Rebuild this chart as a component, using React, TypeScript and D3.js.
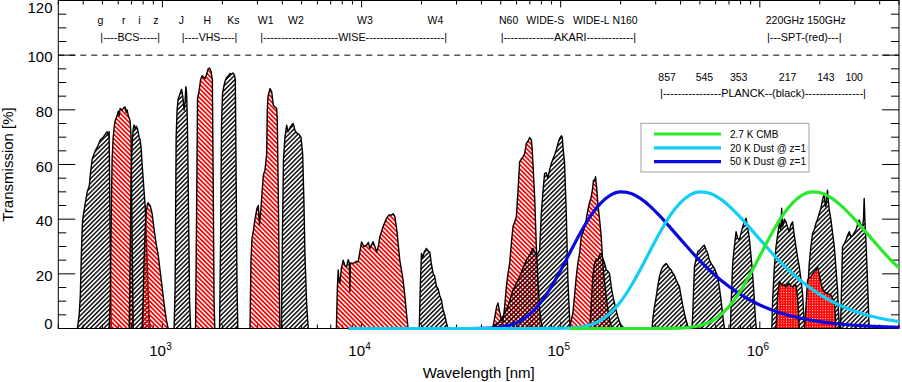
import React, { useRef, useEffect } from "react";
import * as d3 from "d3";

type Pt = [number, number];

// filter transmission curves: [wavelength (micron), transmission (%)]
const bcsG: Pt[] = [[0.374,0],[0.382,5],[0.387,12],[0.391,25],[0.396,38],[0.400,41],[0.410,46],[0.419,50],[0.429,52],[0.434,56],[0.444,62],[0.460,65],[0.476,67],[0.487,69],[0.504,70],[0.516,71],[0.528,72],[0.534,70.5],[0.540,72],[0.547,30],[0.553,0]];
const bcsR: Pt[] = [[0.540,0],[0.547,10],[0.553,40],[0.559,62],[0.566,70],[0.573,74],[0.579,76],[0.593,78],[0.600,79.5],[0.607,78],[0.613,80.5],[0.628,80],[0.643,81],[0.650,81],[0.658,79],[0.665,80],[0.673,78],[0.681,77],[0.688,76],[0.696,70],[0.705,30],[0.713,0]];
const bcsI: Pt[] = [[0.681,0],[0.688,25],[0.696,55],[0.705,68],[0.713,73],[0.721,74.5],[0.729,73],[0.738,74],[0.746,73.5],[0.755,72],[0.764,70],[0.773,69],[0.782,66],[0.791,60],[0.800,55],[0.809,50],[0.819,45],[0.828,36],[0.838,25],[0.847,14],[0.857,5],[0.868,0]];
const bcsZ: Pt[] = [[0.791,0],[0.800,10],[0.809,25],[0.819,36],[0.828,42],[0.838,45],[0.847,46],[0.857,45.5],[0.868,45],[0.888,42],[0.909,36],[0.930,31],[0.952,27],[0.974,21],[0.997,15],[1.020,9],[1.044,3.5],[1.068,0]];
const vhsJ: Pt[] = [[1.145,0],[1.158,15],[1.172,70],[1.185,80],[1.199,84],[1.227,86],[1.249,87.5],[1.270,84],[1.285,80],[1.300,83],[1.311,88.5],[1.323,86],[1.335,75],[1.354,40],[1.369,10],[1.385,0]];
const vhsH: Pt[] = [[1.467,0],[1.484,40],[1.501,84],[1.528,87],[1.555,91],[1.582,92.5],[1.610,92],[1.638,91.5],[1.667,93],[1.696,95],[1.726,95.3],[1.755,94],[1.781,91],[1.796,60],[1.817,10],[1.832,0]];
const vhsKs: Pt[] = [[1.936,0],[1.958,30],[1.981,75],[2.004,86],[2.039,89],[2.075,91],[2.111,92],[2.148,92.5],[2.185,93.3],[2.223,93],[2.262,93.5],[2.302,92.7],[2.323,91],[2.342,60],[2.369,15],[2.391,0]];
const wiseW1: Pt[] = [[2.753,0],[2.785,25],[2.817,33],[2.867,36],[2.917,40],[2.985,44],[3.030,45],[3.072,38],[3.126,44],[3.210,56],[3.274,58],[3.339,64],[3.362,80],[3.389,84.8],[3.469,87.8],[3.538,86.6],[3.604,81.7],[3.675,81],[3.748,80.5],[3.775,76],[3.818,50],[3.863,15],[3.893,0]];
const wiseW2: Pt[] = [[3.961,0],[4.007,35],[4.054,62],[4.125,70],[4.206,74.4],[4.270,72],[4.370,73.5],[4.472,74.6],[4.540,75],[4.630,72.5],[4.738,71.5],[4.849,71],[4.962,70],[5.061,64],[5.137,46],[5.197,27],[5.300,9],[5.398,0]];
const wiseW3: Pt[] = [[7.475,0],[7.563,15],[7.633,21.4],[7.696,18],[7.784,16.6],[7.920,22],[8.087,25],[8.247,23],[8.411,22.6],[8.567,25.2],[8.687,24],[8.737,13.5],[8.788,24],[9.077,23.8],[9.365,24.5],[9.616,24.4],[9.806,28],[10.00,31.7],[10.27,30],[10.60,30.5],[10.82,31.5],[11.01,29.3],[11.43,31.7],[11.66,30],[11.89,28],[12.14,30],[12.35,33.5],[12.79,37],[13.35,40.3],[13.71,41.5],[14.14,41.5],[14.44,42],[14.69,40.9],[15.04,36],[15.56,25],[16.17,17.7],[16.49,12],[16.82,5.5],[17.13,0]];
const wiseW4: Pt[] = [[19.49,0],[19.72,15],[19.99,27.5],[20.30,26],[20.65,28],[21.18,29.3],[21.51,28.5],[22.01,28],[22.39,24],[22.86,20.2],[23.32,19],[23.78,15.3],[24.22,14.6],[24.70,12],[25.19,10.4],[25.66,7],[26.17,4.9],[26.69,2],[27.19,0]];
const akariN60: Pt[] = [[45.55,0],[46.62,4],[47.71,8],[48.43,9.3],[49.39,6],[50.55,3],[51.31,2.5],[52.33,8],[53.37,15.3],[54.36,20],[55.43,23.8],[56.53,31.1],[57.59,37.2],[58.73,39],[59.89,40.9],[61.01,50],[62.22,61],[63.45,62],[64.64,62.8],[65.92,64],[67.23,67.7],[68.48,68.5],[69.83,69.9],[71.21,69],[71.88,66],[72.55,60.4],[73.99,48.2],[75.45,29.9],[76.86,17.7],[78.38,6.8],[79.93,2],[81.43,0]];
const akariWideS: Pt[] = [[45.55,0],[47.16,1.5],[49.39,2.5],[51.31,4.5],[53.37,6.8],[55.43,10],[57.59,14],[59.89,16.5],[62.22,19],[64.64,22],[67.23,25],[69.83,26.8],[72.55,29.3],[73.99,28],[75.45,26.8],[76.86,27.5],[78.38,28.6],[79.93,42.1],[81.43,50],[83.04,56.7],[84.69,57],[86.27,54.9],[87.98,58],[89.72,60.4],[91.40,62],[93.22,63.5],[95.06,65.3],[96.83,67.5],[98.74,69.5],[100.7,70.5],[101.9,69.9],[102.8,66],[104.6,60.4],[106.7,42],[108.7,17.7],[110.8,4],[111.7,0]];
const akariWideL: Pt[] = [[110.2,0],[112.1,2],[115.1,5.5],[117.4,12],[119.8,19],[122.0,24],[124.4,27.5],[126.9,33.6],[129.2,35],[131.8,37.2],[134.4,40],[136.9,43.3],[139.6,46],[142.4,48.2],[144.5,51],[146.2,54.3],[147.9,54],[149.6,55.5],[151.4,52],[153.6,45.8],[156.7,40],[159.8,33.6],[162.8,23.8],[166.0,17],[169.3,11.6],[172.5,7],[175.9,3.1],[179.4,1],[182.7,0]];
const akariN160: Pt[] = [[138.0,0],[140.4,2],[142.4,9],[145.0,19],[147.9,23.8],[151.4,25.5],[154.0,25],[156.7,26.9],[159.4,27.5],[162.8,25.6],[166.0,24],[169.3,21.4],[172.5,21],[175.9,20.1],[179.4,15.3],[182.7,12],[186.4,9.2],[190.1,6.5],[193.6,4.3],[197.4,2.5],[201.3,1.2],[209.1,0]];
const planck857: Pt[] = [[287.4,0],[290.8,4],[295.8,8],[301.7,11.6],[307.3,15.5],[313.3,19],[318.8,21],[325.5,22.6],[331.9,23.2],[338.5,23.8],[344.8,23],[351.7,22],[358.7,21.5],[365.4,20.2],[372.6,19.5],[380.0,17.7],[387.1,16.5],[394.8,15.3],[402.6,11.6],[410.2,8.5],[418.3,5.5],[426.6,3],[434.5,1],[443.1,0]];
const planck545: Pt[] = [[456.1,0],[460.3,5],[469.5,22.6],[477.6,25],[487.7,28.1],[497.3,28.5],[507.1,29.3],[516.6,30],[526.9,30.5],[536.0,29],[547.3,27.5],[558.2,25],[569.3,23.8],[579.9,23],[591.4,22],[603.1,20.5],[614.4,19],[626.6,15],[639.0,10.4],[651.0,5],[663.9,0]];
const planck353: Pt[] = [[711.5,0],[717.2,8],[730.7,23.8],[745.1,30],[759.9,35.4],[774.1,33],[789.4,32.4],[805.0,35],[820.1,37.2],[836.4,39],[852.9,40.3],[868.8,37],[886.0,33],[899.4,28],[913.8,22.6],[928.0,16],[938.7,10.4],[949.7,4],[960.7,0]];
const planck217: Pt[] = [[1149,0],[1159,10],[1182,22],[1206,29.9],[1228,34],[1253,38.5],[1275,36],[1287,44],[1302,37.2],[1328,40],[1354,39],[1379,37],[1406,35.4],[1434,38],[1461,39],[1490,34],[1519,29.9],[1547,26],[1578,22.6],[1609,18],[1639,12.8],[1662,5],[1682,0]];
const planck143: Pt[] = [[1721,0],[1737,12],[1771,23.8],[1806,30],[1840,34.8],[1876,36],[1914,38.5],[1949,40],[1988,42.1],[2027,44],[2065,47],[2106,49.4],[2131,45],[2148,44.6],[2168,48],[2188,50.6],[2206,47],[2232,43.4],[2276,39.8],[2319,35],[2365,30],[2412,22],[2457,14],[2485,6],[2514,0]];
const planck100: Pt[] = [[2543,0],[2564,10],[2602,30],[2654,31],[2707,32.4],[2757,34],[2812,35.4],[2868,33.5],[2921,34],[2979,35],[3038,36],[3095,38],[3155,39.7],[3217,38],[3278,37],[3316,40],[3343,47.6],[3370,40],[3409,32.4],[3441,25],[3472,17.7],[3509,8],[3542,0]];
const spt220: Pt[] = [[1206,0],[1217,5],[1228,11.6],[1253,17.1],[1275,16.5],[1302,15.8],[1328,16],[1354,15.2],[1379,16],[1406,16.5],[1434,15.5],[1461,15.2],[1490,16],[1519,15.8],[1547,11.6],[1565,5],[1578,0]];
const spt150: Pt[] = [[1672,0],[1691,4],[1705,8],[1737,17.7],[1771,18.5],[1806,19],[1840,20],[1876,20.8],[1914,21.5],[1949,22.6],[1988,20],[2027,16.5],[2065,14.5],[2106,13.5],[2148,13],[2188,12.8],[2232,12.5],[2276,12.2],[2319,11],[2365,9.8],[2392,5],[2412,0]];

// model spectra, scaled to 50% peak: [wavelength (micron), value]
const dust50: Pt[] = [[8.6,0],[20,0],[31.6,0],[39.8,0.06],[50.1,0.54],[63.1,2.9],[70.8,5.6],[79.4,9.5],[89.1,14.9],[100,21.3],[112.2,28.3],[125.9,35.1],[141.3,41.2],[158.5,45.8],[177.8,48.8],[199.5,50.0],[223.9,49.5],[251.2,47.6],[281.8,44.7],[316.2,41.0],[398.1,32.8],[501.2,24.7],[631,17.9],[794.3,12.6],[1000,8.6],[1259,5.8],[1585,3.85],[1995,2.53],[2512,1.64],[3162,1.06],[3981,0.68],[5000,0.44]];
const dust20: Pt[] = [[8.6,0],[50,0],[99.5,0.06],[125.3,0.54],[157.8,2.9],[177,5.6],[198.5,9.5],[222.8,14.9],[250,21.3],[280.5,28.3],[314.8,35.1],[353.3,41.2],[396.3,45.8],[444.5,48.8],[498.8,50.0],[559.8,49.5],[628,47.6],[704.5,44.7],[790.5,41.0],[995.3,32.8],[1253,24.7],[1578,17.9],[1986,12.6],[2500,8.6],[3148,5.8],[3963,3.85],[5000,2.53]];
const cmb: Pt[] = [[110.8,0],[300,0],[400,0.14],[459.6,0.54],[578.9,2.9],[649.5,5.6],[728.4,9.5],[817.4,14.9],[917.4,21.3],[1029,28.3],[1155,35.1],[1296,41.2],[1454,45.8],[1631,48.8],[1830,50.0],[2054,49.5],[2305,47.6],[2585,44.7],[2901,41.0],[3652,32.8],[4598,24.7],[5000,22.2]];

const legendNames = ["2.7 K CMB", "20 K Dust @ z=1", "50 K Dust @ z=1"];

// band names and where they sit (micron)
const bandNames = ["g","r","i","z","J","H","Ks","W1","W2","W3","W4","N60","WIDE-S","WIDE-L","N160","220GHz 150GHz"];
const bandNameAt = [0.488,0.640,0.766,0.926,1.245,1.682,2.27,3.30,4.68,10.4,23.5,54.8,83.7,142.4,210.8,1701];
const planckNames = ["857","545","353","217","143","100"];
const planckNameAt = [342.4,526.9,783.0,1379,2148,2979];
const surveyNames = ["|----BCS-----|","|----VHS----|","|---------------------WISE----------------------|","|--------------AKARI-------------|","|---SPT-(red)---|","|----------------PLANCK--(black)----------------|"];
const surveyFrom = [0.488,1.251,3.101,49.96,1086.7,315.8];
const surveyTo = [0.974,2.377,26.87,239.4,2572,3409];

const yTicks = [0, 20, 40, 60, 80, 100, 120];
const xDecades = [3, 4, 5, 6];

const FONT = "'Liberation Sans', Arial, Helvetica, sans-serif";

const App = () => {
    const ref = useRef<SVGSVGElement>(null);

    useEffect(() => {
        const svg = d3.select(ref.current);
        svg.selectAll("*").remove();

        const left = 58.3, right = 899, top = 0.5, bottom = 328.5;
        const x = d3.scaleLog().domain([300, 5e6]).range([left, right]);
        const y = d3.scaleLinear().domain([0, 120]).range([bottom, top]);
        const um = (v: number) => x(v * 1000);

        const defs = svg.append("defs");
        const hatch = (id: string, color: string, angle: number, w: number) => {
            defs.append("pattern")
                .attr("id", id)
                .attr("patternUnits", "userSpaceOnUse")
                .attr("width", 3.2).attr("height", 3.2)
                .attr("patternTransform", `rotate(${angle})`)
                .append("line")
                .attr("x1", 1.6).attr("y1", -1).attr("x2", 1.6).attr("y2", 4.2)
                .attr("stroke", color).attr("stroke-width", w);
        };
        hatch("hatchK", "#000", 45, 1.4);
        hatch("hatchR", "#ff0000", -45, 1.7);
        const spt = defs.append("pattern")
            .attr("id", "sptFill")
            .attr("patternUnits", "userSpaceOnUse")
            .attr("width", 2.6).attr("height", 2.6);
        spt.append("rect").attr("width", 2.6).attr("height", 2.6).attr("fill", "#ff0000");
        spt.append("circle").attr("cx", 1.3).attr("cy", 1.3).attr("r", 0.55).attr("fill", "#fff");

        const g = svg.append("g").style("font-family", FONT);

        // ticks (drawn first, fills go over them)
        const ax = g.append("g").attr("stroke", "#000").attr("stroke-width", 1);
        for (let v = 0; v <= 120; v += 5) {
            const len = v % 20 === 0 ? 17 : 8;
            ax.append("line").attr("x1", left).attr("x2", left + len).attr("y1", y(v)).attr("y2", y(v));
            ax.append("line").attr("x1", right - len).attr("x2", right).attr("y1", y(v)).attr("y2", y(v));
        }
        for (let e = 2; e <= 6; e++) {
            for (let m = 1; m <= 9; m++) {
                const v = m * Math.pow(10, e);
                if (v < 300 || v > 5e6) continue;
                const len = m === 1 ? 7 : 4;
                ax.append("line").attr("x1", x(v)).attr("x2", x(v)).attr("y1", top).attr("y2", top + len);
                ax.append("line").attr("x1", x(v)).attr("x2", x(v)).attr("y1", bottom).attr("y2", bottom - len);
            }
        }

        // filters
        const filters: { data: Pt[]; fill: string }[] = [
            { data: bcsG, fill: "url(#hatchK)" },
            { data: bcsR, fill: "url(#hatchR)" },
            { data: bcsI, fill: "url(#hatchK)" },
            { data: bcsZ, fill: "url(#hatchR)" },
            { data: vhsJ, fill: "url(#hatchK)" },
            { data: vhsH, fill: "url(#hatchR)" },
            { data: vhsKs, fill: "url(#hatchK)" },
            { data: wiseW1, fill: "url(#hatchR)" },
            { data: wiseW2, fill: "url(#hatchK)" },
            { data: wiseW3, fill: "url(#hatchR)" },
            { data: wiseW4, fill: "url(#hatchK)" },
            { data: akariN60, fill: "url(#hatchR)" },
            { data: akariWideS, fill: "url(#hatchK)" },
            { data: akariWideL, fill: "url(#hatchR)" },
            { data: akariN160, fill: "url(#hatchK)" },
            { data: planck857, fill: "url(#hatchK)" },
            { data: planck545, fill: "url(#hatchK)" },
            { data: planck353, fill: "url(#hatchK)" },
            { data: planck217, fill: "url(#hatchK)" },
            { data: planck143, fill: "url(#hatchK)" },
            { data: planck100, fill: "url(#hatchK)" },
            { data: spt220, fill: "url(#sptFill)" },
            { data: spt150, fill: "url(#sptFill)" },
        ];
        const area = d3.area<Pt>().x(d => um(d[0])).y0(y(0)).y1(d => y(d[1]));
        const outline = d3.line<Pt>().x(d => um(d[0])).y(d => y(d[1]));
        filters.forEach(f => {
            g.append("path").attr("d", area(f.data)).attr("fill", f.fill);
            g.append("path").attr("d", outline(f.data))
                .attr("fill", "none").attr("stroke", "#000").attr("stroke-width", 1.4)
                .attr("stroke-linejoin", "round");
        });

        // frame
        g.append("rect")
            .attr("x", left).attr("y", top)
            .attr("width", right - left).attr("height", bottom - top)
            .attr("fill", "none").attr("stroke", "#000").attr("stroke-width", 1);

        // model curves
        const curve = d3.line<Pt>().x(d => um(d[0])).y(d => y(d[1])).curve(d3.curveMonotoneX);
        const models: { data: Pt[]; color: string }[] = [
            { data: dust50, color: "#0a0adc" },
            { data: dust20, color: "#12cdf5" },
            { data: cmb, color: "#2ae82a" },
        ];
        models.forEach(m => {
            g.append("path").attr("d", curve(m.data))
                .attr("fill", "none").attr("stroke", m.color).attr("stroke-width", 3.2);
        });

        // 100% line
        g.append("line")
            .attr("x1", left).attr("x2", right).attr("y1", y(100)).attr("y2", y(100))
            .attr("stroke", "#000").attr("stroke-width", 1).attr("stroke-dasharray", "6,5");

        // y labels
        yTicks.forEach(v => {
            const base = v === 120 ? 12.7 : v === 0 ? 329 : y(v) + 7.3;
            g.append("text").attr("x", 52.5).attr("y", base)
                .attr("text-anchor", "end").style("font-size", "15px").text(String(v));
        });
        g.append("text")
            .attr("transform", `translate(12.7,${(top + bottom) / 2}) rotate(-90)`)
            .attr("text-anchor", "middle").style("font-size", "15px")
            .text("Transmission [%]");

        // x labels
        xDecades.forEach(e => {
            const px = x(Math.pow(10, e));
            g.append("text").attr("x", px + 3.5).attr("y", 355.7)
                .attr("text-anchor", "end").style("font-size", "15px").text("10");
            g.append("text").attr("x", px + 3.8).attr("y", 349.5)
                .style("font-size", "10px").text(String(e));
        });
        g.append("text")
            .attr("x", (left + right) / 2).attr("y", 377.5)
            .attr("text-anchor", "middle").style("font-size", "15px")
            .text("Wavelength [nm]");

        // band annotations
        bandNames.forEach((n, i) => {
            g.append("text").attr("x", um(bandNameAt[i])).attr("y", 23.5)
                .attr("text-anchor", "middle").style("font-size", "10.5px").text(n);
        });
        planckNames.forEach((n, i) => {
            g.append("text").attr("x", um(planckNameAt[i])).attr("y", 80.7)
                .attr("text-anchor", "middle").style("font-size", "10.5px").text(n);
        });
        surveyNames.forEach((n, i) => {
            const x0 = um(surveyFrom[i]);
            const x1 = um(surveyTo[i]);
            const yy = n.indexOf("PLANCK") >= 0 ? 97 : 41;
            g.append("text").attr("x", x0).attr("y", yy)
                .attr("textLength", x1 - x0).attr("lengthAdjust", "spacingAndGlyphs")
                .style("font-size", "10.5px").text(n);
        });

        // legend
        const lg = g.append("g");
        lg.append("rect")
            .attr("x", 641).attr("y", 123.3).attr("width", 168).attr("height", 48.7)
            .attr("fill", "#fff").attr("stroke", "#a0a0a0").attr("stroke-width", 1);
        const legendColors = [models[2].color, models[1].color, models[0].color];
        legendNames.forEach((n, i) => {
            const yy = 134 + i * 13.8;
            lg.append("line").attr("x1", 654).attr("x2", 721).attr("y1", yy).attr("y2", yy)
                .attr("stroke", legendColors[i]).attr("stroke-width", 3.2);
            lg.append("text").attr("x", 730).attr("y", yy + 3.7)
                .style("font-size", "10px").text(n);
        });
    }, []);

    return (
        <svg ref={ref} width={902} height={382}
            style={{ position: "absolute", left: 0, top: 0, background: "#fff" }} />
    );
};

export default App;
